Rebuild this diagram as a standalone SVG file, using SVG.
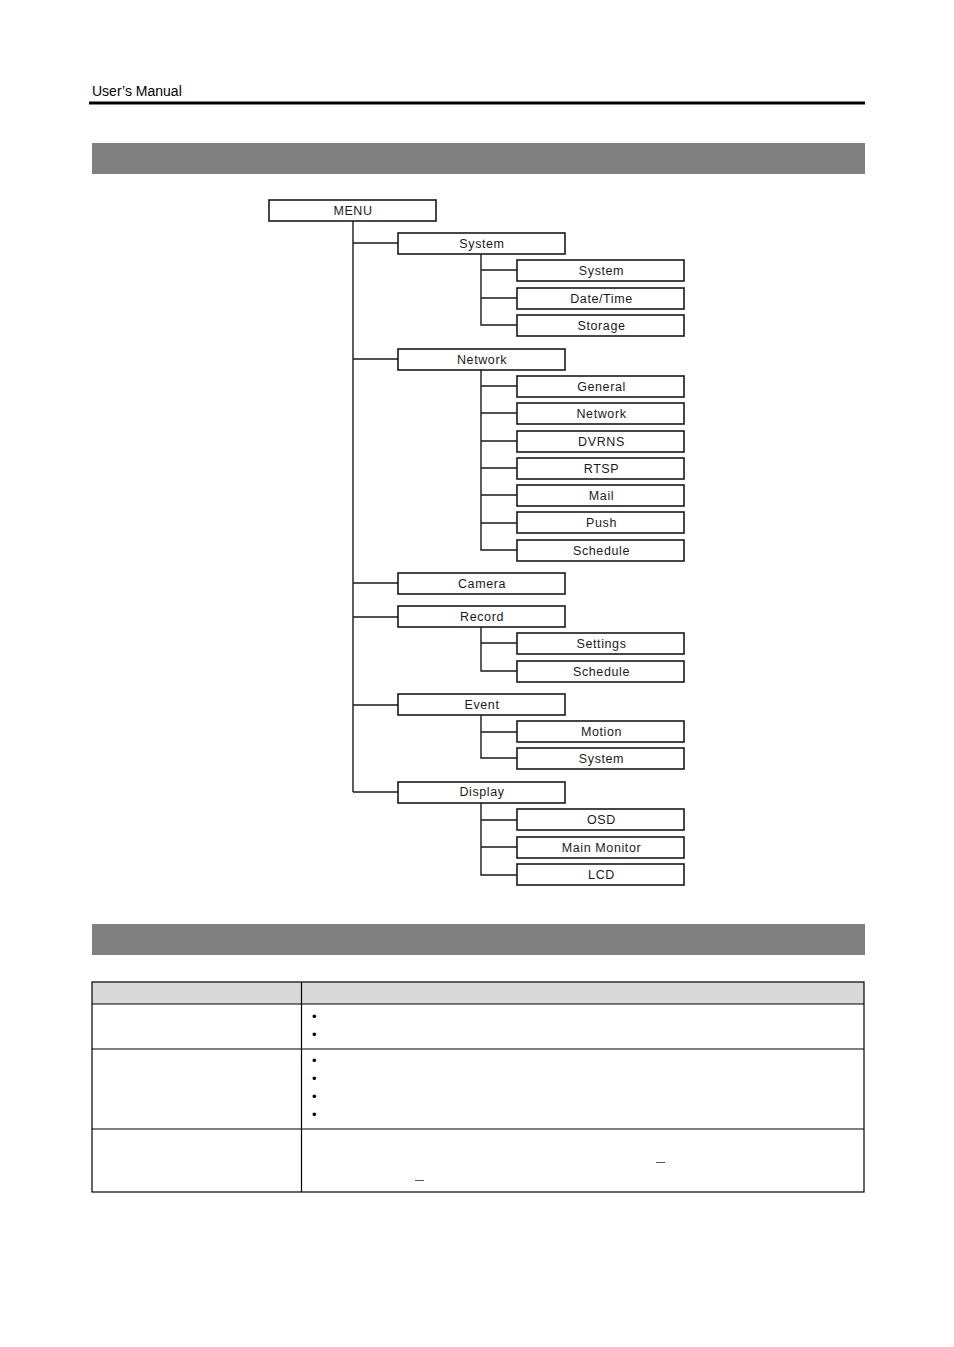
<svg xmlns="http://www.w3.org/2000/svg" width="954" height="1347" viewBox="0 0 954 1347">
<style>
.bx{fill:#fff;stroke:#1a1a1a;stroke-width:1.6}
.lb{font-family:"Liberation Sans",Arial,sans-serif;font-size:12.5px;fill:#1a1a1a;text-anchor:middle;letter-spacing:0.6px}
.cn{stroke:#1a1a1a;stroke-width:1.4;fill:none}
.tl{stroke:#000;stroke-width:1.2;fill:none}
.bu{font-family:"Liberation Sans",Arial,sans-serif;font-size:13px;fill:#000}
</style>
<rect width="954" height="1347" fill="#fff"/>
<text x="92" y="96" font-family="Liberation Sans, Arial, sans-serif" font-size="14" fill="#000">User’s Manual</text>
<rect x="89" y="101.5" width="776" height="3" fill="#000"/>
<rect x="92" y="143" width="773" height="31" fill="#808080"/>
<rect x="92" y="924" width="773" height="31" fill="#808080"/>

<g id="connectors">
<path class="cn" d="M353 221V792M353 243H398M353 359H398M353 583H398M353 617H398M353 705H398M353 792H398"/>
<path class="cn" d="M481 254V325H517M481 270H517M481 298H517"/>
<path class="cn" d="M481 370V550H517M481 386H517M481 413H517M481 441H517M481 468H517M481 495H517M481 523H517"/>
<path class="cn" d="M481 627V671H517M481 643H517"/>
<path class="cn" d="M481 715V758H517M481 732H517"/>
<path class="cn" d="M481 803V875H517M481 820H517M481 847H517"/>
</g>

<g id="menu"><rect class="bx" x="269" y="200" width="167" height="21"/><text class="lb" x="353" y="215">MENU</text></g>
<g id="system"><rect class="bx" x="398" y="233" width="167" height="21"/><text class="lb" x="482" y="248">System</text></g>
<g id="system-system"><rect class="bx" x="517" y="260" width="167" height="21"/><text class="lb" x="601.5" y="275">System</text></g>
<g id="system-datetime"><rect class="bx" x="517" y="288" width="167" height="21"/><text class="lb" x="601.5" y="303">Date/Time</text></g>
<g id="system-storage"><rect class="bx" x="517" y="315" width="167" height="21"/><text class="lb" x="601.5" y="330">Storage</text></g>
<g id="network"><rect class="bx" x="398" y="349" width="167" height="21"/><text class="lb" x="482" y="364">Network</text></g>
<g id="network-general"><rect class="bx" x="517" y="376" width="167" height="21"/><text class="lb" x="601.5" y="391">General</text></g>
<g id="network-network"><rect class="bx" x="517" y="403" width="167" height="21"/><text class="lb" x="601.5" y="418">Network</text></g>
<g id="network-dvrns"><rect class="bx" x="517" y="431" width="167" height="21"/><text class="lb" x="601.5" y="446">DVRNS</text></g>
<g id="network-rtsp"><rect class="bx" x="517" y="458" width="167" height="21"/><text class="lb" x="601.5" y="473">RTSP</text></g>
<g id="network-mail"><rect class="bx" x="517" y="485" width="167" height="21"/><text class="lb" x="601.5" y="500">Mail</text></g>
<g id="network-push"><rect class="bx" x="517" y="512" width="167" height="21"/><text class="lb" x="601.5" y="527">Push</text></g>
<g id="network-schedule"><rect class="bx" x="517" y="540" width="167" height="21"/><text class="lb" x="601.5" y="555">Schedule</text></g>
<g id="camera"><rect class="bx" x="398" y="573" width="167" height="21"/><text class="lb" x="482" y="588">Camera</text></g>
<g id="record"><rect class="bx" x="398" y="606" width="167" height="21"/><text class="lb" x="482" y="621">Record</text></g>
<g id="record-settings"><rect class="bx" x="517" y="633" width="167" height="21"/><text class="lb" x="601.5" y="648">Settings</text></g>
<g id="record-schedule"><rect class="bx" x="517" y="661" width="167" height="21"/><text class="lb" x="601.5" y="676">Schedule</text></g>
<g id="event"><rect class="bx" x="398" y="694" width="167" height="21"/><text class="lb" x="482" y="709">Event</text></g>
<g id="event-motion"><rect class="bx" x="517" y="721" width="167" height="21"/><text class="lb" x="601.5" y="736">Motion</text></g>
<g id="event-system"><rect class="bx" x="517" y="748" width="167" height="21"/><text class="lb" x="601.5" y="763">System</text></g>
<g id="display"><rect class="bx" x="398" y="782" width="167" height="21"/><text class="lb" x="482" y="796">Display</text></g>
<g id="display-osd"><rect class="bx" x="517" y="809" width="167" height="21"/><text class="lb" x="601.5" y="824">OSD</text></g>
<g id="display-mainmonitor"><rect class="bx" x="517" y="837" width="167" height="21"/><text class="lb" x="601.5" y="852">Main Monitor</text></g>
<g id="display-lcd"><rect class="bx" x="517" y="864" width="167" height="21"/><text class="lb" x="601.5" y="879">LCD</text></g>

<g id="table">
<rect x="92" y="982" width="772" height="22" fill="#d9d9d9"/>
<rect class="tl" x="92" y="982" width="772" height="210"/>
<path class="tl" d="M92 1004H864M92 1049H864M92 1129H864M301.5 982V1192"/>
<text class="bu" x="312" y="1021">•</text>
<text class="bu" x="312" y="1039">•</text>
<text class="bu" x="312" y="1065">•</text>
<text class="bu" x="312" y="1083">•</text>
<text class="bu" x="312" y="1101">•</text>
<text class="bu" x="312" y="1119">•</text>
<path d="M656 1162.5H665M415 1180.5H424" stroke="#555" stroke-width="1"/>
</g>
</svg>
